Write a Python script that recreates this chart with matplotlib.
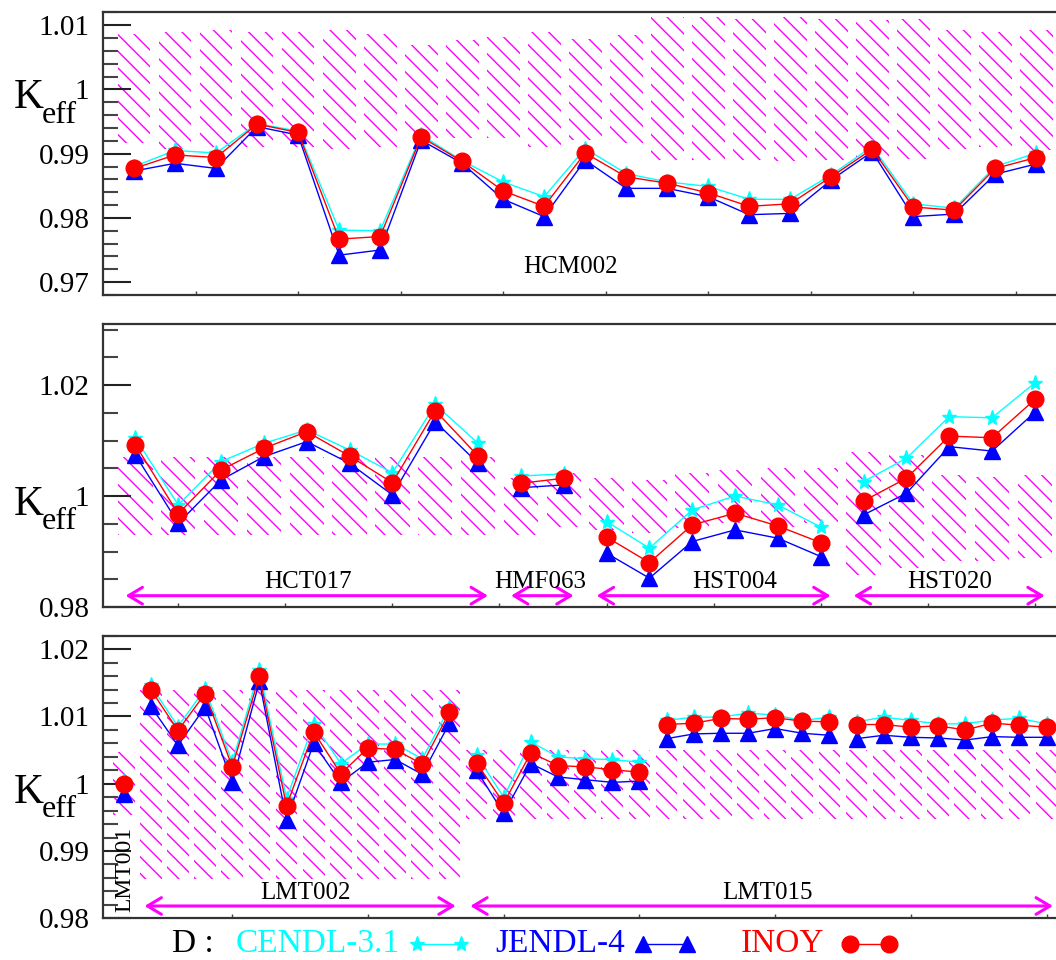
import numpy as np
import matplotlib
matplotlib.use("Agg")
import matplotlib.pyplot as plt
from matplotlib.lines import Line2D
from matplotlib.ticker import MultipleLocator, FixedLocator, FuncFormatter

plt.rcParams['font.family'] = ['Liberation Serif', 'DejaVu Serif']
plt.rcParams['hatch.linewidth'] = 1.0

# --- HCM002 (top panel) ---
hcm_cendl = [0.9880, 0.9905, 0.9901, 0.9947, 0.9935, 0.9781, 0.9780, 0.9929, 0.9889, 0.9856, 0.9833, 0.9908,
             0.9869, 0.9856, 0.9849, 0.9829, 0.9829, 0.9867, 0.9911, 0.9822, 0.9815, 0.9880, 0.9901]
hcm_jendl = [0.9873, 0.9885, 0.9877, 0.9942, 0.9929, 0.9742, 0.9750, 0.9921, 0.9885, 0.9829, 0.9802, 0.9890,
             0.9846, 0.9846, 0.9833, 0.9805, 0.9807, 0.9859, 0.9903, 0.9802, 0.9806, 0.9868, 0.9884]
hcm_inoy = [0.9877, 0.9898, 0.9894, 0.9946, 0.9933, 0.9767, 0.9771, 0.9926, 0.9888, 0.9842, 0.9818, 0.9901,
            0.9864, 0.9854, 0.9839, 0.9818, 0.9822, 0.9864, 0.9907, 0.9817, 0.9812, 0.9877, 0.9894]
hcm_exp_hi = [1.0087, 1.0089, 1.0093, 1.0090, 1.0090, 1.0093, 1.0087, 1.0069, 1.0077, 1.0082, 1.0090, 1.0079,
              1.0084, 1.0113, 1.0113, 1.0110, 1.0113, 1.0110, 1.0108, 1.0109, 1.0092, 1.0090, 1.0092]
hcm_exp_lo = [0.9916, 0.9908, 0.9911, 0.9911, 0.9911, 0.9907, 0.9911, 0.9924, 0.9924, 0.9924, 0.9911, 0.9921,
              0.9916, 0.9890, 0.9890, 0.9890, 0.9888, 0.9890, 0.9895, 0.9892, 0.9908, 0.9911, 0.9906]
hcm_segments = [23]

# --- HCT017 / HMF063 / HST004 / HST020 (middle panel) ---
mid_cendl = [1.0104, 0.9984, 1.0062, 1.0095, 1.0119, 1.0083, 1.0042, 1.0165, 1.0095,
             1.0036, 1.0040,
             0.9954, 0.9906, 0.9975, 1.0000, 0.9984, 0.9944,
             1.0026, 1.0068, 1.0143, 1.0141, 1.0204]
mid_jendl = [1.0074, 0.9951, 1.0029, 1.0071, 1.0098, 1.0059, 1.0002, 1.0134, 1.0059,
             1.0015, 1.0020,
             0.9897, 0.9852, 0.9918, 0.9939, 0.9924, 0.9891,
             0.9966, 1.0005, 1.0089, 1.0081, 1.0151]
mid_inoy = [1.0092, 0.9968, 1.0047, 1.0086, 1.0116, 1.0072, 1.0024, 1.0154, 1.0072,
            1.0023, 1.0032,
            0.9926, 0.9880, 0.9948, 0.9969, 0.9946, 0.9916,
            0.9991, 1.0032, 1.0108, 1.0105, 1.0174]
mid_exp_hi = [1.0071] * 9 + [1.0032, 1.0041] + [1.0032, 1.0029, 1.0041, 1.0047, 1.0050, 1.0050] + \
             [1.0080, 1.0074, 1.0038, 1.0035, 1.0038]
mid_exp_lo = [0.9930] * 9 + [0.9930, 0.9945] + [0.9939, 0.9933, 0.9942, 0.9951, 0.9945, 0.9951] + \
             [0.9858, 0.9870, 0.9882, 0.9882, 0.9888]
mid_segments = [9, 2, 6, 5]
mid_names = ['HCT017', 'HMF063', 'HST004', 'HST020']

# --- LMT001 / LMT002 / LMT015 (bottom panel) ---
lmt_cendl = [1.0002,
             1.0146, 1.0085, 1.0141, 1.0032, 1.0169, 0.9978, 1.0089, 1.0030, 1.0059, 1.0059, 1.0037, 1.0113,
             1.0042, 0.9980, 1.0062, 1.0040, 1.0037, 1.0036, 1.0032,
             1.0094, 1.0099, 1.0099, 1.0105, 1.0102, 1.0094, 1.0099,
             1.0092, 1.0099, 1.0094, 1.0089, 1.0089, 1.0095, 1.0097, 1.0089]
lmt_jendl = [0.9984,
             1.0115, 1.0057, 1.0114, 1.0002, 1.0152, 0.9946, 1.0060, 1.0002, 1.0032, 1.0036, 1.0014, 1.0090,
             1.0020, 0.9956, 1.0030, 1.0010, 1.0006, 1.0002, 1.0004,
             1.0067, 1.0074, 1.0075, 1.0075, 1.0082, 1.0075, 1.0072,
             1.0067, 1.0072, 1.0069, 1.0068, 1.0065, 1.0070, 1.0069, 1.0069]
lmt_inoy = [1.0000,
            1.0140, 1.0079, 1.0134, 1.0025, 1.0160, 0.9967, 1.0077, 1.0015, 1.0053, 1.0051, 1.0029, 1.0106,
            1.0031, 0.9971, 1.0046, 1.0027, 1.0025, 1.0021, 1.0017,
            1.0088, 1.0090, 1.0097, 1.0096, 1.0098, 1.0093, 1.0092,
            1.0088, 1.0088, 1.0084, 1.0086, 1.0080, 1.0090, 1.0087, 1.0084]
lmt_exp_hi = [1.0047] + [1.0140] * 12 + [1.0050] * 22
lmt_exp_lo = [0.9953] + [0.9859] * 12 + [0.9948] * 22
lmt_segments = [1, 12, 7, 7, 8]

LIB_LABELS = ['CENDL-3.1', 'JENDL-4', 'INOY']
LIB_STYLE = [dict(color='#00ffff', marker='*', ms=11),
             dict(color='#0000ff', marker='^', ms=12),
             dict(color='#ff0000', marker='o', ms=12)]

W, H = 1056, 960
fig = plt.figure(figsize=(W / 100, H / 100), dpi=100)


def panel(top_px, bottom_px):
    left, right = 103.3, 1067.0
    return fig.add_axes([left / W, 1 - bottom_px / H, (right - left) / W, (bottom_px - top_px) / H])


def draw_panel(ax, series, hi, lo, segments, ylim, major, minor, xticks):
    n = len(hi)
    x = np.arange(1, n + 1)
    hi = np.array(hi)
    lo = np.array(lo)
    ax.bar(x, hi - lo, bottom=lo, width=0.8, fill=False, hatch='\\\\',
           edgecolor='#ff00ff', linewidth=0, zorder=1)
    for vals, style in zip(series, LIB_STYLE):
        vals = np.array(vals)
        start = 0
        for length in segments:
            sl = slice(start, start + length)
            ax.plot(x[sl], vals[sl], lw=1.0, mec=style['color'], zorder=3, **style)
            start += length
    ax.set_xlim(0.25, n + 0.75)
    ax.set_ylim(*ylim)
    ax.yaxis.set_major_locator(MultipleLocator(major))
    ax.yaxis.set_minor_locator(MultipleLocator(minor))
    ax.yaxis.set_major_formatter(FuncFormatter(lambda v, p: f'{round(v, 4):g}'))
    ax.xaxis.set_major_locator(xticks)
    ax.tick_params(axis='y', which='major', direction='in', length=20, width=1.5,
                   labelsize=21, pad=10, color='#222222')
    ax.tick_params(axis='y', which='minor', direction='in', length=10.5, width=1.5, color='#444444')
    ax.tick_params(axis='x', which='both', direction='in', length=3, width=1,
                   labelbottom=False, color='#444444')
    for s in ax.spines.values():
        s.set_linewidth(1.6)
        s.set_color('#333333')
    # K_eff label sits beside the "1" tick label
    ytr = ax.get_yaxis_transform()
    ax.annotate('K', xy=(0, 1.0), xycoords=ytr, xytext=(-64.3, -13.7), textcoords='offset points',
                fontsize=30, ha='left', va='baseline')
    ax.annotate('eff', xy=(0, 1.0), xycoords=ytr, xytext=(-44.5, -24.0), textcoords='offset points',
                fontsize=23, ha='left', va='baseline')
    return x


def group_arrow(ax, x0, x1, y):
    ax.annotate('', xy=(x1, y), xytext=(x0, y),
                arrowprops=dict(arrowstyle='<->,head_length=1.0,head_width=0.6', color='#ff00ff',
                                lw=2.2, shrinkA=0, shrinkB=0, mutation_scale=10), zorder=2)


# top panel
ax1 = panel(12.3, 295.0)
draw_panel(ax1, [hcm_cendl, hcm_jendl, hcm_inoy], hcm_exp_hi, hcm_exp_lo, hcm_segments,
           (0.968, 1.012), 0.01, 0.002, MultipleLocator(2.5))
ax1.text(11.64, 0.9714, 'HCM002', fontsize=18, ha='center', va='baseline')

# middle panel
ax2 = panel(324.0, 607.0)
draw_panel(ax2, [mid_cendl, mid_jendl, mid_inoy], mid_exp_hi, mid_exp_lo, mid_segments,
           (0.98, 1.031), 0.02, 0.005, FixedLocator(np.arange(2, 23, 2.5)))
mid_label_x = [5.03, 10.46, 15.0, 20.0]
start = 1
for name, length, lx in zip(mid_names, mid_segments, mid_label_x):
    group_arrow(ax2, start - 0.23, start + length - 1 + 0.23, 0.98204)
    ax2.text(lx, 0.98337, name, fontsize=18, ha='center', va='baseline')
    start += length

# bottom panel
ax3 = panel(635.7, 918.3)
draw_panel(ax3, [lmt_cendl, lmt_jendl, lmt_inoy], lmt_exp_hi, lmt_exp_lo, lmt_segments,
           (0.98, 1.022), 0.01, 0.002, MultipleLocator(5))
group_arrow(ax3, 2 - 0.23, 13 + 0.23, 0.98183)
group_arrow(ax3, 14 - 0.23, 35 + 0.23, 0.98183)
ax3.text(7.7, 0.98293, 'LMT002', fontsize=18, ha='center', va='baseline')
ax3.text(24.7, 0.98293, 'LMT015', fontsize=18, ha='center', va='baseline')
ax3.text(1.05, 0.9809, 'LMT001', fontsize=17, ha='center', va='bottom', rotation=90)

# legend row along the bottom edge
ly = 1 - 944 / H
fig.text(172 / W, ly, 'D :', fontsize=24, va='center', ha='left')
legend_text_x = [236, 495, 741]
legend_mark_x = [(417, 461), (643, 687), (850, 889)]
for label, style, tx, (m0, m1) in zip(LIB_LABELS, LIB_STYLE, legend_text_x, legend_mark_x):
    fig.text(tx / W, ly, label, fontsize=24, va='center', ha='left', color=style['color'])
    fig.add_artist(Line2D([m0 / W, m1 / W], [ly, ly], lw=1.0, mec=style['color'], **style))

fig.savefig('out.png', dpi=100)
